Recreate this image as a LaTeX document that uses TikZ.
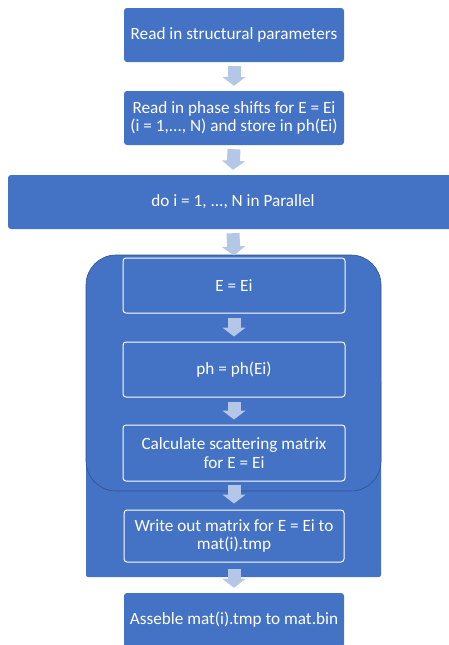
\documentclass[tikz,border=0pt]{standalone}
\usepackage{fontspec}
\setmainfont{Carlito}
\usetikzlibrary{arrows.meta}
\definecolor{boxblue}{HTML}{4472C4}
\definecolor{arrowc}{HTML}{B4C7E7}
\definecolor{edgeblue}{HTML}{2F528F}
\begin{document}
\begin{tikzpicture}[x=1pt,y=-1pt,
  box/.style={fill=boxblue, rounded corners=3pt, text=white, align=center,
    font=\fontsize{17.2}{18.5}\selectfont, inner sep=2pt},
  inbox/.style={box, draw=white, line width=1pt},
  blk/.style={arrowc, line width=13pt, -{Triangle[length=9pt,width=23pt]}}]
\useasboundingbox (0,0) rectangle (449,645);
\clip (0,0) rectangle (449,645);
% container
\fill[boxblue, rounded corners=2pt] (86,380) rectangle (381,577);
\draw[fill=boxblue, draw=edgeblue, line width=0.6pt, rounded corners=30pt] (86,255) rectangle (381,491);
% nodes
\node[box, minimum width=220pt, minimum height=54pt] (n1) at (234,35) {Read in structural parameters};
\node[box, minimum width=220pt, minimum height=54pt] (n2) at (234,118) {Read in phase shifts for E = Ei\\(i = 1,..., N) and store in ph(Ei)};
\node[box, minimum width=450pt, minimum height=54pt] (n3) at (233,202) {do i = 1, ..., N in Parallel};
\node[inbox, minimum width=222pt, minimum height=55pt] (n4) at (234,285.5) {E = Ei};
\node[inbox, minimum width=222pt, minimum height=55pt] (n5) at (234,369.5) {ph = ph(Ei)};
\node[inbox, minimum width=222pt, minimum height=56pt] (n6) at (234,453) {Calculate scattering matrix\\for E = Ei};
\node[inbox, minimum width=220pt, minimum height=52pt] (n7) at (234,536) {Write out matrix for E = Ei to\\mat(i).tmp};
\node[box, minimum width=220pt, minimum height=54pt] (n8) at (234,620) {Asseble mat(i).tmp to mat.bin};
% block arrows
\draw[blk] ([yshift=-4pt]n1.south) -- ([yshift=5pt]n2.north);
\draw[blk] ([yshift=-4pt]n2.south) -- ([yshift=5pt]n3.north);
\draw[blk] ([yshift=-4pt]n3.south) -- ([yshift=2pt]n4.north);
\draw[blk] ([yshift=-4pt]n4.south) -- ([yshift=5pt]n5.north);
\draw[blk] ([yshift=-4pt]n5.south) -- ([yshift=5pt]n6.north);
\draw[blk] ([yshift=-3pt]n6.south) -- ([yshift=6pt]n7.north);
\draw[blk] ([yshift=-6pt]n7.south) -- ([yshift=5pt]n8.north);
\end{tikzpicture}
\end{document}
